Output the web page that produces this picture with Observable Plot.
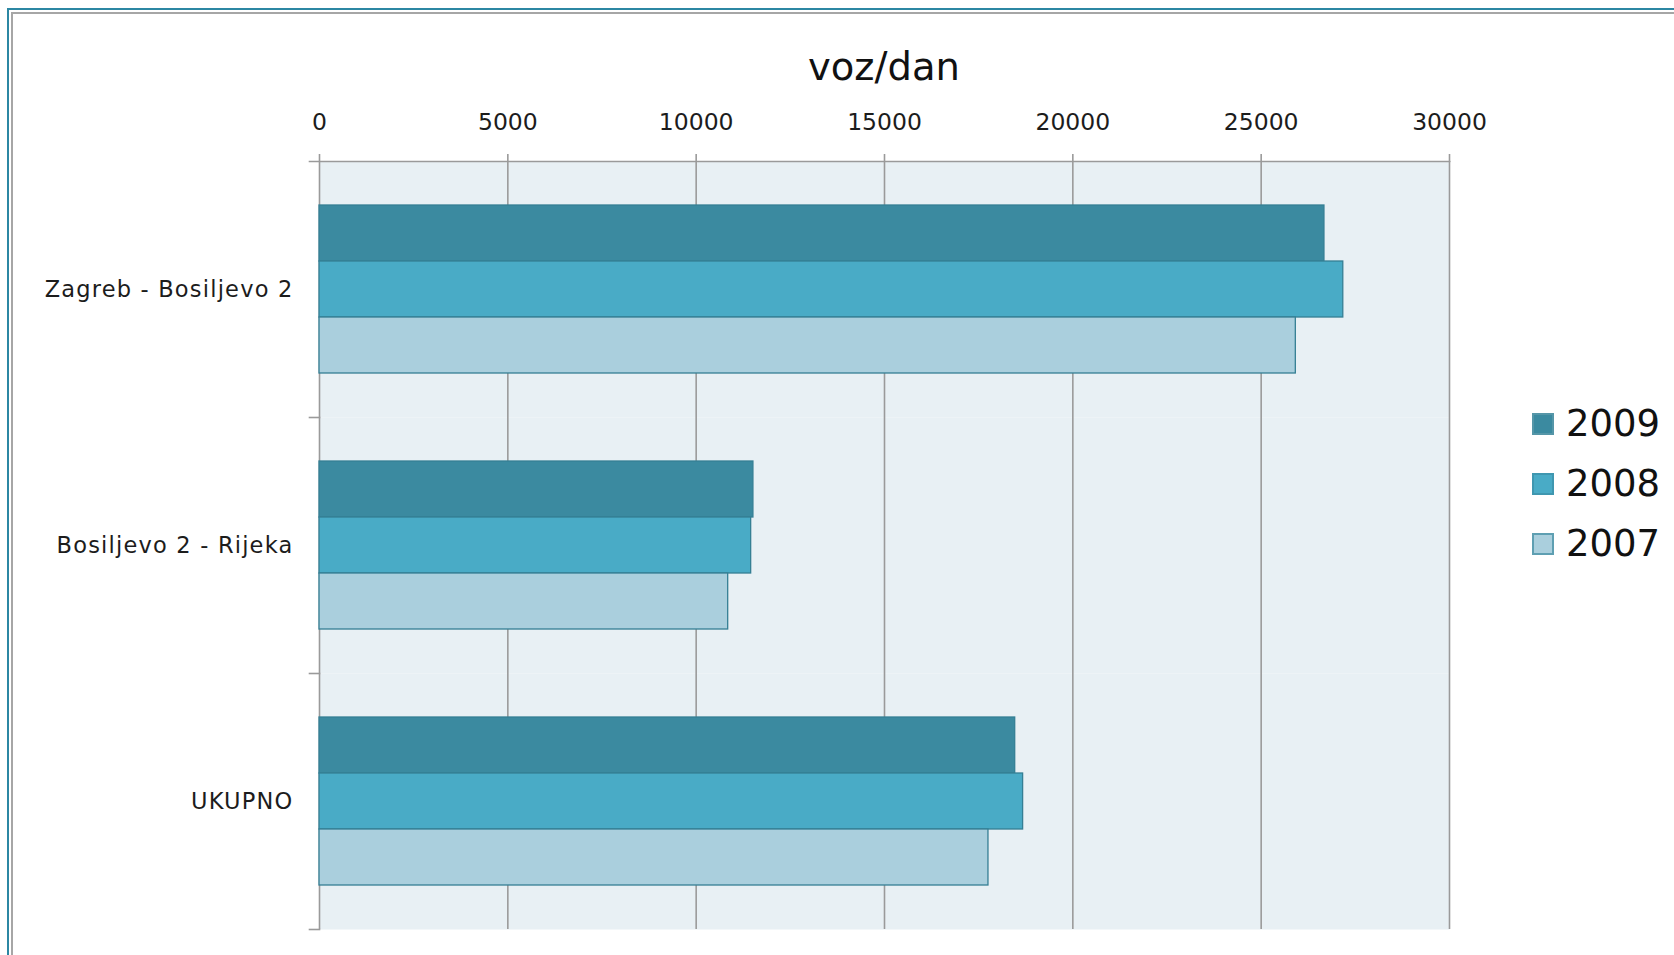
<!DOCTYPE html>
<html>
<head>
<meta charset="utf-8">
<script src="https://cdn.jsdelivr.net/npm/d3@7"></script>
<script src="https://cdn.jsdelivr.net/npm/@observablehq/plot@0.6"></script>
<style>
  html, body { margin: 0; padding: 0; background: #fff; }
  #wrap { position: relative; width: 1674px; height: 955px; overflow: hidden; background: #fff; font-family: "DejaVu Sans", Verdana, sans-serif; }
  #chart { position: absolute; left: 0; top: 0; }
  #title { position: absolute; left: 319px; width: 1130px; top: 48px; text-align: center; font-size: 38.5px; line-height: 38px; color: #111; }
  .border { position: absolute; width: 4000px; height: 4000px; pointer-events: none; }
  #b1 { left: 7px; top: 8px; border-left: 2px solid #2c87a3; border-top: 2px solid #2c87a3; }
  #b2 { left: 11px; top: 12px; border-left: 2px solid #a6a6a6; border-top: 2px solid #a6a6a6; }
  #legend { position: absolute; left: 1532px; top: 406px; }
  .row { display: flex; align-items: center; height: 36px; margin-bottom: 24px; }
  .sw { width: 18px; height: 18px; border: 2px solid; margin-right: 12px; }
  .lab { font-size: 37px; line-height: 36px; color: #111; }
</style>
</head>
<body>
<div id="wrap">
  <div id="chart"></div>
  <div id="title">voz/dan</div>
  <div id="legend"></div>
  <div class="border" id="b1"></div>
  <div class="border" id="b2"></div>
</div>
<script>
// ---- data ----
const categories = ["Zagreb - Bosiljevo 2", "Bosiljevo 2 - Rijeka", "UKUPNO"];
const years = ["2009", "2008", "2007"];
const values2009 = [26680, 11520, 18470];
const values2008 = [27180, 11460, 18680];
const values2007 = [25920, 10850, 17760];
const xTicks = [0, 5000, 10000, 15000, 20000, 25000, 30000];
const colors = ["#3b8aa0", "#49abc6", "#aacfdd"];
const swatchBorders = ["#5596a8", "#3f97b0", "#5e9fb2"];

const series = {"2009": values2009, "2008": values2008, "2007": values2007};
const rows = [];
categories.forEach((c, i) => years.forEach(y => rows.push({cat: c, year: y, value: series[y][i]})));

// ---- layout ----
const W = 1674, H = 955;
const mL = 319, mR = 225, mT = 160, mB = 26;
const plotW = W - mL - mR;
const grid = "#9a9a9a";
const ink = "#1c1c1c";

const chart = Plot.plot({
  width: W,
  height: H,
  marginLeft: mL,
  marginRight: mR,
  marginTop: mT,
  marginBottom: mB,
  style: {background: "transparent", fontFamily: "DejaVu Sans, Verdana, sans-serif"},
  x: {domain: [0, 30000], axis: null},
  fy: {domain: categories, padding: 0, axis: null},
  y: {domain: years, paddingInner: 0, paddingOuter: 0.762, axis: null},
  color: {domain: years, range: colors},
  marks: [
    Plot.frame({fill: "#e8f0f4", stroke: "none"}),
    Plot.ruleX(xTicks, {stroke: grid, strokeWidth: 1.6}),
    Plot.frame({anchor: "bottom", stroke: grid, strokeWidth: 1.6, insetLeft: -10, insetRight: plotW}),
    Plot.frame({anchor: "top", fy: categories[0], stroke: grid, strokeWidth: 1.6, insetLeft: -10}),
    Plot.barX(rows, {fy: "cat", y: "year", x: "value", fill: "year", stroke: "#357f94", strokeWidth: 1.3}),
    Plot.axisX({anchor: "top", ticks: xTicks, tickSize: 8, tickPadding: 24, stroke: grid, strokeWidth: 1.6,
      fontSize: 23.5, fill: ink, label: null, tickFormat: d3.format("d")}),
    Plot.axisFy({anchor: "left", tickSize: 0, tickPadding: 26, fontSize: 22.5, fill: ink, label: null})
  ]
});
document.getElementById("chart").appendChild(chart);
d3.select(chart).selectAll('g[aria-label="fy-axis tick label"] text').attr("letter-spacing", "1.2px");

// ---- legend ----
const leg = d3.select("#legend");
years.forEach((y, i) => {
  const r = leg.append("div").attr("class", "row");
  r.append("div").attr("class", "sw").style("background", colors[i]).style("border-color", swatchBorders[i]);
  r.append("div").attr("class", "lab").text(y);
});
</script>
</body>
</html>
